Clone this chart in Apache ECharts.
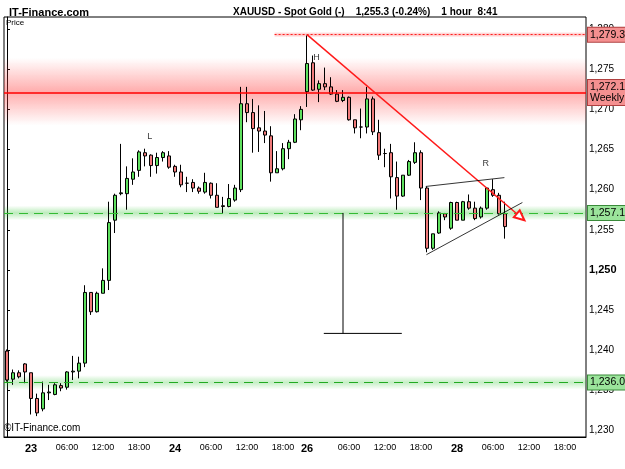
<!DOCTYPE html>
<html><head><meta charset="utf-8">
<script src="https://cdn.jsdelivr.net/npm/echarts@6/dist/echarts.min.js"></script>
<style>html,body{margin:0;padding:0;background:#fff}#c{width:625px;height:469px}</style>
</head><body><div id="c"></div>
<script>
const opens  = [1239.9,1236.4,1237.2,1238.3,1237.2,1234.0,1232.7,1234.7,1234.5,1235.6,1235.4,1237.3,1237.4,1238.4,1247.2,1244.8,1247.1,1248.7,1256.2,1259.5,1259.5,1261.3,1262.4,1264.6,1264.3,1263.0,1264.0,1264.2,1262.9,1262.2,1260.8,1260.9,1260.2,1259.7,1260.8,1259.3,1258.0,1257.9,1258.7,1260.0,1270.7,1269.6,1267.7,1267.3,1266.7,1262.1,1262.6,1265.1,1265.9,1268.7,1272.2,
1275.8,1272.5,1273.2,1272.8,1271.9,1271.1,1271.5,1268.7,1267.8,1267.8,1271.3,1267.1,1264.5,1264.6,1261.5,1259.2,1261.8,1263.4,1264.6,1260.2,1252.7,1254.6,1257.0,1255.2,1258.4,1256.2,1258.5,1257.7,1256.6,1257.7,1260.0,1259.3,1257.0];
const closes = [1236.3,1237.2,1236.7,1237.3,1234.0,1232.2,1234.7,1234.8,1235.7,1235.3,1237.3,1237.4,1238.4,1247.2,1244.8,1247.1,1248.7,1255.9,1259.3,1259.6,1261.4,1262.2,1264.7,1264.2,1263.0,1264.0,1264.6,1262.8,1262.2,1260.6,1260.8,1260.2,1259.8,1260.9,1259.3,1257.8,1257.9,1258.9,1260.2,1270.7,1269.6,1267.6,1267.3,1266.8,1262.1,1262.6,1265.1,1265.9,1268.8,1270.0,1275.7,
1272.4,1273.2,1272.8,1271.9,1271.0,1271.5,1268.7,1267.7,1267.8,1271.3,1267.2,1264.3,1264.5,1261.6,1259.2,1261.8,1263.5,1264.6,1260.2,1252.7,1254.5,1257.1,1256.6,1258.4,1256.2,1258.5,1257.7,1256.4,1257.7,1260.2,1259.3,1257.0,1255.4];
const lows   = [1236.1,1235.7,1236.5,1235.9,1232.0,1231.8,1232.4,1233.8,1234.4,1234.9,1235.1,1236.3,1236.5,1237.9,1244.4,1244.7,1247.1,1247.5,1254.6,1259.3,1257.5,1260.6,1261.6,1262.9,1261.6,1262.0,1263.5,1262.6,1261.6,1260.3,1259.7,1259.7,1259.5,1259.5,1258.9,1257.8,1257.1,1257.8,1258.5,1259.7,1268.4,1264.6,1264.7,1265.8,1261.0,1262.1,1262.4,1263.8,1265.8,1267.4,1270.3,
1272.3,1270.9,1272.4,1271.8,1270.9,1270.9,1268.6,1267.0,1266.4,1267.0,1266.8,1263.7,1262.8,1258.9,1257.5,1259.1,1261.7,1263.2,1258.7,1252.2,1252.5,1254.5,1256.2,1255.0,1256.2,1256.2,1257.5,1256.2,1256.4,1257.5,1259.1,1256.9,1253.9];
const highs  = [1240.1,1237.6,1237.5,1238.4,1237.2,1234.6,1236.1,1235.7,1235.9,1235.9,1237.4,1239.3,1239.2,1248.1,1247.2,1247.3,1250.2,1258.5,1259.5,1265.7,1262.9,1263.9,1264.9,1265.1,1264.4,1264.6,1264.8,1264.8,1263.1,1263.1,1261.6,1261.3,1260.4,1262.1,1260.9,1260.8,1259.1,1260.7,1260.6,1272.8,1272.8,1271.3,1270.5,1269.8,1267.9,1264.8,1265.8,1266.2,1269.4,1270.4,1279.2,
1276.7,1273.6,1275.2,1274.0,1272.4,1272.4,1271.6,1268.7,1270.1,1272.8,1271.6,1268.7,1265.1,1265.7,1263.5,1261.8,1263.7,1265.9,1264.9,1260.4,1254.5,1257.3,1257.1,1258.5,1258.5,1258.6,1259.4,1258.5,1257.9,1260.3,1261.3,1259.6,1258.5];
const slotCount = 97;
const xTickIdx = [4,10,16,22,28,34,40,46,50,57,63,69,75,81,87,93];
const xTickLabels = ['23','06:00','12:00','18:00','24','06:00','12:00','18:00','26','06:00','12:00','18:00','28','06:00','12:00','18:00'];
const yTicks = [1230,1235,1240,1245,1250,1255,1260,1265,1270,1275,1280];
const levelValues = {resist:1279.3, weekly:1272.1, supp1:1257.1, supp2:1236.0, last:1255.3};
const trendLine = [[50,1279.3],[85.6,1256.6]];
const wedgeUpper = [[69.8,1260.4],[82.9,1261.5]];
const wedgeLower = [[69.9,1251.9],[85.9,1258.4]];
const measureV = [[56.0,1257.1],[56.0,1242.1]];
const measureH = [[52.8,1242.1],[65.8,1242.1]];
const letters = [['L',23.8,1266.6],['H',51.6,1276.4],['R',79.8,1263.2]];

const cats = []; for (let i=0;i<slotCount;i++) cats.push(String(i));
const candles = opens.map((o,i)=>[o,closes[i],lows[i],highs[i]]);
const fmt = v => v.toLocaleString('en-US',{minimumFractionDigits:1,maximumFractionDigits:1});
const fmt0 = v => v.toLocaleString('en-US');
const showTick = i => xTickIdx.includes(i);
const band = (c, a) => ({type:'linear',x:0,y:0,x2:0,y2:1,colorStops:[
  {offset:0,color:`rgba(${c},0)`},{offset:0.5,color:`rgba(${c},${a})`},{offset:1,color:`rgba(${c},0)`}]});
const boxLabel = (txt,bg,bd) => ({show:true,position:'end',formatter:txt,color:'#000',fontSize:10.5,
  fontFamily:'Liberation Sans, Arial',backgroundColor:bg,borderColor:bd,borderWidth:1,padding:[2,2,1,2],distance:2,lineHeight:11});
const seg = (d,color,w) => ({type:'line',xAxisIndex:1,data:d,symbol:'none',silent:true,
  lineStyle:{color:color,width:w},z:5});

const chart = echarts.init(document.getElementById('c'));
chart.setOption({
  animation:false,
  textStyle:{fontFamily:'Liberation Sans, Arial'},
  title:[
    {text:'IT-Finance.com',left:4,top:2,textStyle:{fontSize:11,fontWeight:'bold',color:'#000'}},
    {text:'XAUUSD - Spot Gold (-)    1,255.3 (-0.24%)    1 hour  8:41',left:228,top:2,textStyle:{fontSize:10,fontWeight:'bold',color:'#000'}}
  ],
  graphic:[
    {type:'text',left:6,top:19,style:{text:'Price',fontSize:8,fill:'#000'}},
    {type:'text',left:4,top:423,style:{text:'©IT-Finance.com',fontSize:10,fill:'#000'}}
  ],
  grid:{left:4,right:39,top:17,bottom:32,show:true,borderColor:'#000',borderWidth:1},
  xAxis:[
    {type:'category',data:cats,boundaryGap:true,
     axisLine:{lineStyle:{color:'#000'}},
     axisTick:{interval:(i)=>showTick(i),alignWithLabel:true,length:4,lineStyle:{color:'#000'}},
     axisLabel:{interval:(i)=>showTick(i),fontSize:9,color:'#000',margin:6,
       formatter:(v,i)=>{const k=xTickIdx.indexOf(Number(v));const t=xTickLabels[k];return t.length<=2?'{b|'+t+'}':t;},
       rich:{b:{fontWeight:'bold',fontSize:11}}},
     splitLine:{show:false}},
    {type:'value',min:-0.5,max:slotCount-0.5,show:false}
  ],
  yAxis:{type:'value',position:'right',min:1229.2,max:1281.5,scale:true,
    axisLine:{show:true,lineStyle:{color:'#000'}},
    axisTick:{show:true,length:3,customValues:yTicks,lineStyle:{color:'#000'}},
    axisLabel:{customValues:yTicks,fontSize:10,color:'#000',margin:3,
      formatter:v=>v===1250?'{b|'+fmt0(v)+'}':fmt0(v),rich:{b:{fontWeight:'bold',fontSize:11}}},
    splitLine:{show:false}},
  series:[
    {type:'line',xAxisIndex:1,data:[],silent:true,z:1,
     markArea:{silent:true,data:[
       [{yAxis:1268.0,itemStyle:{color:band('255,60,60',0.42)}},{yAxis:1276.4}],
       [{coord:[44.6,1278.95],itemStyle:{color:band('255,60,60',0.35)}},{coord:[slotCount-0.5,1279.65]}],
       [{yAxis:1256.2,itemStyle:{color:band('60,200,60',0.35)}},{yAxis:1258.0}],
       [{yAxis:1235.1,itemStyle:{color:band('60,200,60',0.3)}},{yAxis:1236.9}]
     ]},
     markLine:{silent:true,symbol:'none',data:[
       {yAxis:levelValues.weekly,lineStyle:{color:'#ff0000',width:1.5,type:'solid'},
        label:boxLabel(fmt(levelValues.weekly)+'\nWeekly','#f49090','#b04040')},
       {yAxis:levelValues.supp1,lineStyle:{color:'#33bb33',width:1.2,type:[9,6]},
        label:boxLabel(fmt(levelValues.supp1),'#9be49b','#3a8a3a')},
       {yAxis:levelValues.supp2,lineStyle:{color:'#22aa22',width:1.2,type:[9,6]},
        label:boxLabel(fmt(levelValues.supp2),'#9be49b','#3a8a3a')},
       {yAxis:levelValues.last,lineStyle:{opacity:0},
        label:boxLabel(fmt(levelValues.last),'#ffd21a','#a08000')},
       [{coord:[44.6,levelValues.resist],lineStyle:{color:'#ff2020',width:1,type:[2,2]},
         label:boxLabel(fmt(levelValues.resist),'#f49090','#b04040')},{coord:[slotCount-0.5,levelValues.resist]}]
     ]}},
    {type:'candlestick',xAxisIndex:0,data:candles,barWidth:4,z:3,
     itemStyle:{color:'#5ee05e',color0:'#f07a7a',borderColor:'#000',borderColor0:'#000',borderWidth:1}},
    {type:'line',xAxisIndex:1,data:[],silent:true,z:6,
     markLine:{silent:true,symbol:['none','emptyTriangle'],symbolSize:[9,10],
       data:[[{coord:trendLine[0]},{coord:trendLine[1]}]],
       lineStyle:{color:'#ff1a1a',width:1.5,type:'solid'},label:{show:false}}},
    seg(wedgeUpper,'#000',0.8), seg(wedgeLower,'#000',0.8),
    seg(measureV,'#000',1), seg(measureH,'#000',1),
    {type:'scatter',xAxisIndex:1,symbolSize:0,silent:true,
     data:letters.map(l=>({name:l[0],value:[l[1],l[2]]})),
     label:{show:true,formatter:'{b}',position:'inside',fontSize:9,color:'#000'}}
  ]
});
</script></body></html>
